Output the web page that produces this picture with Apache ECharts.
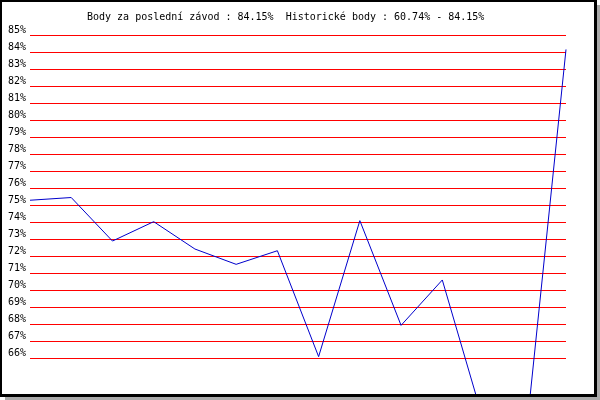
<!DOCTYPE html>
<html style="height: 100%">

<head>
    <meta charset="utf-8">
    <title>Body</title>
</head>

<body style="height: 100%; margin: 0;">
    <div id="container" style="width: 600px; height: 400px"></div>
    <script type="text/javascript" src="https://cdn.jsdelivr.net/npm/echarts@6/dist/echarts.min.js"></script>
    <script type="text/javascript">
        // body za jednotlive zavody (v %)
        var races = ['1', '2', '3', '4', '5', '6', '7', '8', '9', '10', '11', '12', '13', '14'];
        var points = [75.28, 75.44, 72.88, 74.02, 72.41, 71.51, 72.31, 66.08, 74.08, 67.92, 70.59, 62.3, 60.74, 84.15];
        var yTicks = [64, 65, 66, 67, 68, 69, 70, 71, 72, 73, 74, 75, 76, 77, 78, 79, 80, 81, 82, 83, 84, 85];
        var titleText = 'Body za poslední závod : 84.15%  Historické body : 60.74% - 84.15%';

        var font = 'DejaVu Sans Mono';
        // 64 a 65 jsou jen rezerva dole, bez cary
        var gridColors = yTicks.map(function (v) { return v < 66 ? 'rgba(0,0,0,0)' : '#ff0000'; });

        var dom = document.getElementById("container");
        var myChart = echarts.init(dom);
        var option = {
            animation: false,
            title: {
                text: titleText,
                left: 82,
                top: 7,
                textStyle: { fontFamily: font, fontSize: 10, fontWeight: 'normal', color: '#000' }
            },
            graphic: [
                { type: 'rect', z: -20, shape: { x: 5, y: 5, width: 595, height: 395 }, style: { fill: '#aaaaaa' } },
                { type: 'rect', z: -19, shape: { x: 0, y: 0, width: 597, height: 397 }, style: { fill: '#000' } },
                { type: 'rect', z: -18, shape: { x: 2, y: 2, width: 592, height: 392 }, style: { fill: '#fff' } },
                // spodni okraj prekryva caru, ktera jde pod graf
                { type: 'rect', z: 100, shape: { x: 0, y: 396, width: 600, height: 4 }, style: { fill: '#fff' } },
                { type: 'rect', z: 101, shape: { x: 5, y: 396, width: 595, height: 4 }, style: { fill: '#aaaaaa' } },
                { type: 'rect', z: 102, shape: { x: 0, y: 394, width: 597, height: 3 }, style: { fill: '#000' } }
            ],
            grid: { left: 30, right: 34, top: 35, bottom: 8 },
            xAxis: {
                type: 'category',
                data: races,
                boundaryGap: false,
                axisLine: { show: false },
                axisTick: { show: false },
                axisLabel: { show: false },
                splitLine: { show: false }
            },
            yAxis: {
                type: 'value',
                min: yTicks[0],
                max: yTicks[yTicks.length - 1],
                interval: 1,
                axisLine: { show: false },
                axisTick: { show: false },
                axisLabel: {
                    margin: 4,
                    verticalAlign: 'bottom',
                    fontFamily: font,
                    fontSize: 10,
                    color: '#000',
                    formatter: function (v) { return v < 66 ? '' : v + '%'; }
                },
                splitLine: { show: true, lineStyle: { color: gridColors, width: 1 } }
            },
            series: [{
                type: 'line',
                data: points,
                symbol: 'none',
                clip: false,
                lineStyle: { color: '#0000cc', width: 1 }
            }]
        };
        myChart.setOption(option, true);
    </script>
</body>

</html>
